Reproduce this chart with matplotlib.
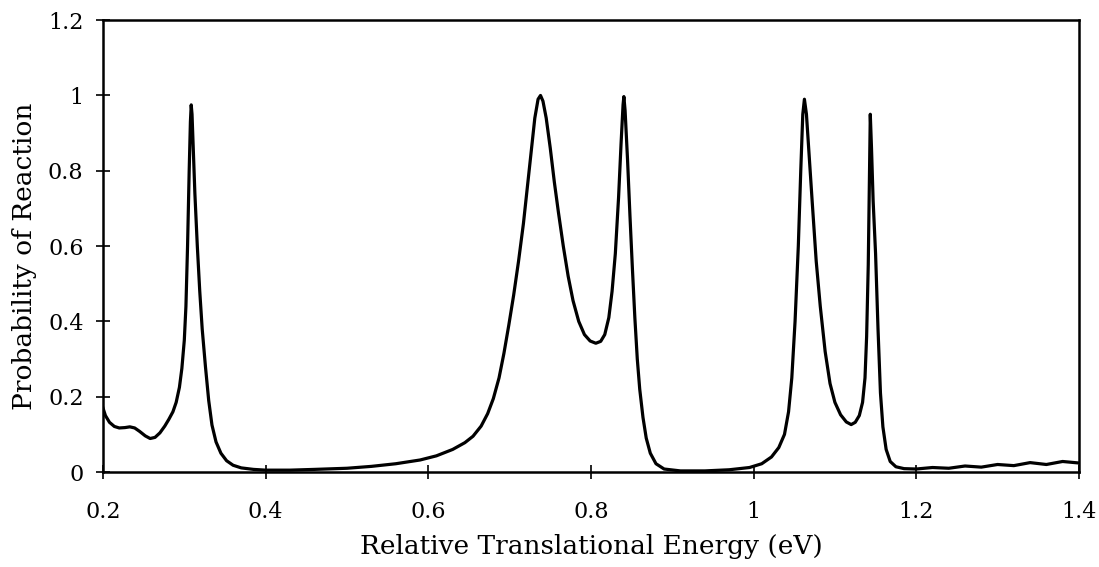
import matplotlib
matplotlib.use("Agg")
import matplotlib.pyplot as plt

# energy (eV) and reaction probability
energy = [0.200, 0.203, 0.208, 0.214, 0.220, 0.227, 0.233, 0.239, 0.245, 0.252,
          0.258, 0.264, 0.270, 0.276, 0.281, 0.286, 0.290, 0.294, 0.297, 0.300,
          0.302, 0.304, 0.306, 0.3075, 0.3085, 0.3095, 0.311, 0.313, 0.316, 0.319,
          0.322, 0.326, 0.330, 0.334, 0.339, 0.345, 0.352, 0.360, 0.370, 0.385,
          0.400, 0.430, 0.460, 0.500, 0.530, 0.560, 0.590, 0.610, 0.630, 0.645,
          0.655, 0.665, 0.673, 0.680, 0.687, 0.693, 0.699, 0.705, 0.711, 0.717,
          0.722, 0.727, 0.731, 0.735, 0.738, 0.741, 0.745, 0.750, 0.755, 0.760,
          0.766, 0.772, 0.778, 0.785, 0.792, 0.799, 0.806, 0.812, 0.817, 0.822,
          0.826, 0.830, 0.834, 0.837, 0.8395, 0.8405, 0.842, 0.845, 0.848, 0.851,
          0.854, 0.857, 0.860, 0.864, 0.868, 0.873, 0.880, 0.890, 0.910, 0.940,
          0.970, 0.995, 1.010, 1.022, 1.031, 1.038, 1.043, 1.047, 1.051, 1.055,
          1.058, 1.0605, 1.0625, 1.065, 1.068, 1.072, 1.077, 1.082, 1.088, 1.094,
          1.100, 1.107, 1.114, 1.120, 1.125, 1.130, 1.134, 1.137, 1.139, 1.141,
          1.1425, 1.1435, 1.145, 1.147, 1.150, 1.153, 1.156, 1.159, 1.163, 1.168,
          1.175, 1.185, 1.200, 1.220, 1.240, 1.260, 1.280, 1.300, 1.320, 1.340,
          1.360, 1.380, 1.400]
prob = [0.170, 0.150, 0.132, 0.121, 0.117, 0.118, 0.120, 0.117, 0.108, 0.096,
        0.089, 0.092, 0.104, 0.122, 0.140, 0.160, 0.185, 0.225, 0.275, 0.350,
        0.440, 0.600, 0.800, 0.930, 0.975, 0.950, 0.860, 0.740, 0.600, 0.480,
        0.380, 0.280, 0.190, 0.125, 0.080, 0.050, 0.030, 0.018, 0.011, 0.007,
        0.005, 0.005, 0.007, 0.010, 0.015, 0.022, 0.032, 0.043, 0.060, 0.078,
        0.095, 0.122, 0.155, 0.195, 0.250, 0.315, 0.390, 0.470, 0.560, 0.660,
        0.760, 0.860, 0.940, 0.990, 1.000, 0.985, 0.940, 0.860, 0.770, 0.690,
        0.600, 0.520, 0.455, 0.400, 0.365, 0.348, 0.342, 0.347, 0.365, 0.410,
        0.480, 0.580, 0.730, 0.870, 0.975, 0.997, 0.960, 0.830, 0.680, 0.540,
        0.410, 0.300, 0.220, 0.145, 0.090, 0.050, 0.022, 0.008, 0.003, 0.003,
        0.006, 0.012, 0.022, 0.040, 0.065, 0.100, 0.160, 0.250, 0.400, 0.600,
        0.800, 0.950, 0.990, 0.950, 0.850, 0.720, 0.560, 0.440, 0.320, 0.235,
        0.185, 0.152, 0.133, 0.126, 0.132, 0.150, 0.185, 0.250, 0.360, 0.550,
        0.800, 0.950, 0.860, 0.720, 0.580, 0.380, 0.210, 0.120, 0.060, 0.028,
        0.014, 0.009, 0.008, 0.012, 0.010, 0.016, 0.013, 0.020, 0.017, 0.025,
        0.020, 0.028, 0.024]

xticks = [0.2, 0.4, 0.6, 0.8, 1.0, 1.2, 1.4]
xtick_labels = ["0.2", "0.4", "0.6", "0.8", "1", "1.2", "1.4"]
yticks = [0, 0.2, 0.4, 0.6, 0.8, 1.0, 1.2]
ytick_labels = ["0", "0.2", "0.4", "0.6", "0.8", "1", "1.2"]

plt.rcParams["font.family"] = ["DejaVu Serif"]

fig = plt.figure(figsize=(10.99, 5.67), dpi=100)
ax = fig.add_axes([0.0937, 0.1675, 0.888, 0.797])

ax.plot(energy, prob, color="black", lw=2.3, solid_joinstyle="round")

ax.set_xlim(0.2, 1.4)
ax.set_ylim(0, 1.2)
ax.set_xticks(xticks)
ax.set_xticklabels(xtick_labels)
ax.set_yticks(yticks)
ax.set_yticklabels(ytick_labels)
ax.tick_params(direction="inout", length=10, width=1.2, labelsize=16)
ax.tick_params(axis="x", pad=16)
ax.tick_params(axis="y", pad=9)
for s in ax.spines.values():
    s.set_linewidth(1.8)

ax.set_xlabel("Relative Translational Energy (eV)", fontsize=19, labelpad=8)
ax.set_ylabel("Probability of Reaction", fontsize=19)
ax.yaxis.set_label_coords(-0.068, 0.478)

fig.savefig("out.png", dpi=100)
